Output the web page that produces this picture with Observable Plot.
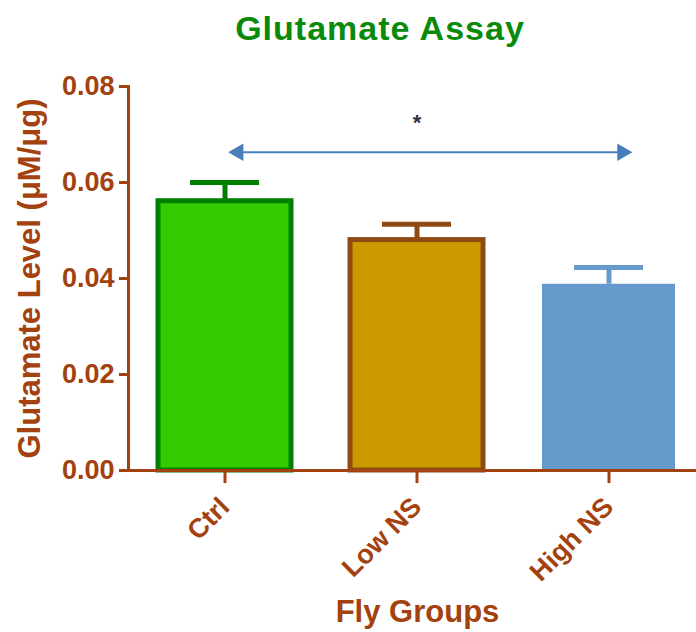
<!DOCTYPE html>
<html><head><meta charset="utf-8">
<script src="https://cdn.jsdelivr.net/npm/d3@7"></script>
<script src="https://cdn.jsdelivr.net/npm/@observablehq/plot@0.6"></script>
<style>
body{margin:0;background:#fff;}
#title{height:56px;font:bold 34px/56px "Liberation Sans",Arial,sans-serif;letter-spacing:1px;color:#0A8A0A;text-align:center;padding-left:64px;box-sizing:border-box;width:696px;overflow:visible;}
</style></head><body>
<div id="title">Glutamate Assay</div>
<div id="chart"></div>
<script>
// data
const groups = ["Ctrl", "Low NS", "High NS"];
const means = [0.0561, 0.0480, 0.0388];
const sems = [0.0039, 0.0033, 0.0035];
const yTicks = [0, 0.02, 0.04, 0.06, 0.08];
const sigFrom = "Ctrl";
const sigTo = "High NS";
const sigMid = "Low NS";
const sigLevel = 0.0663;
const sigLabel = "*";
const yLabel = "Glutamate Level (μM/μg)";
const xLabel = "Fly Groups";

// styles
const brown = "#A3420F";
const fills = {"Ctrl": "#33CC00", "Low NS": "#CC9900", "High NS": "#6699CC"};
const borders = {"Ctrl": "#008000", "Low NS": "#8F4A14", "High NS": "none"};
const errColors = {"Ctrl": "#008000", "Low NS": "#8F4A14", "High NS": "#6699CC"};
const arrowColor = "#4A7EBB";

const rows = groups.map((g, i) => ({group: g, mean: means[i], sem: sems[i]}));
const heads = [{group: sigFrom, dir: -90}, {group: sigTo, dir: 90}];
const halfBand = 66.5;

const chart = Plot.plot({
  width: 696, height: 576,
  marginTop: 30, marginBottom: 162, marginLeft: 128, marginRight: 0,
  style: {fontFamily: '"Liberation Sans", Arial, sans-serif', fontWeight: "bold", background: "#fff", overflow: "visible"},
  x: {domain: groups, range: [157, 675], paddingInner: 0.309, paddingOuter: 0},
  y: {domain: [0, 0.08]},
  color: {type: "identity"},
  marks: [
    Plot.barY(rows, {x: "group", y: "mean", fill: d => fills[d.group], stroke: d => borders[d.group], strokeWidth: 5}),
    Plot.ruleX(rows, {x: "group", y1: "mean", y2: d => d.mean + d.sem, stroke: d => errColors[d.group], strokeWidth: 5}),
    Plot.tickY(rows, {x: "group", y: d => d.mean + d.sem, stroke: d => errColors[d.group], strokeWidth: 5, insetLeft: 32, insetRight: 32}),
    Plot.ruleY([sigLevel], {x1: () => sigFrom, x2: () => sigTo, y: d => d, dx: 13.3, insetLeft: halfBand + 4, insetRight: halfBand + 4, stroke: arrowColor, strokeWidth: 2}),
    Plot.dot(heads, {x: "group", y: () => sigLevel, dx: 13.3, symbol: "triangle", r: 6.5, rotate: d => d.dir, fill: arrowColor}),
    Plot.text([sigLabel], {x: () => sigMid, y: () => sigLevel + 0.0062, text: d => d, fontSize: 22, fill: "#333"}),
    Plot.frame({anchor: "left", stroke: brown, strokeWidth: 3}),
    Plot.frame({anchor: "bottom", stroke: brown, strokeWidth: 3}),
    Plot.axisY({ticks: yTicks, tickFormat: d3.format(".2f"), tickSize: 9, tickPadding: 5, fontSize: 27, color: brown, strokeWidth: 3, label: null}),
    Plot.axisX({tickSize: 13, tickRotate: -45, tickPadding: 19, fontSize: 27, color: brown, strokeWidth: 3, label: null}),
    Plot.text([yLabel], {text: d => d, frameAnchor: "left", rotate: -90, dx: -98, fontSize: 31, fill: brown, textAnchor: "middle", lineAnchor: "middle"}),
    Plot.text([xLabel], {text: d => d, frameAnchor: "bottom", dx: 5, dy: 142, fontSize: 31, fill: brown, textAnchor: "middle", lineAnchor: "middle"})
  ]
});
document.getElementById("chart").appendChild(chart);
</script>
</body></html>
